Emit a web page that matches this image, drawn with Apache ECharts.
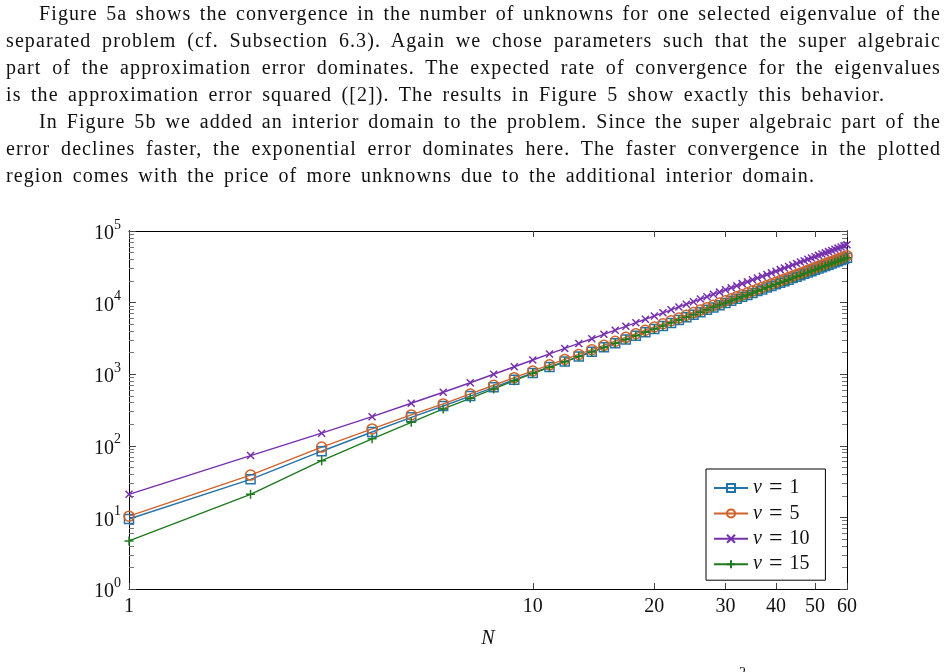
<!DOCTYPE html>
<html>
<head>
<meta charset="utf-8">
<script src="https://cdn.jsdelivr.net/npm/echarts@6.0.0/dist/echarts.min.js"></script>
<style>
  body { margin:0; background:#fff; }
  #main { position:absolute; left:0; top:0; width:947px; height:672px; }
  #text { position:absolute; left:6px; top:0; width:935px; font-family:'Liberation Serif', serif; font-size:20px; line-height:27px; letter-spacing:1.1px; color:#111; pointer-events:none; }
  #text div { text-align:justify; text-align-last:justify; }
  #text .ind { padding-left:33px; }
  #cut { position:absolute; left:739px; top:665px; font-family:'Liberation Serif', serif; font-size:14px; color:#111; }
</style>
</head>
<body>
<div id="main"></div>
<div id="text">
  <div class="ind">Figure 5a shows the convergence in the number of unknowns for one selected eigenvalue of the</div>
  <div>separated problem (cf. Subsection 6.3). Again we chose parameters such that the super algebraic</div>
  <div>part of the approximation error dominates. The expected rate of convergence for the eigenvalues</div>
  <div style="width:879px">is the approximation error squared ([2]). The results in Figure 5 show exactly this behavior.</div>
  <div class="ind">In Figure 5b we added an interior domain to the problem. Since the super algebraic part of the</div>
  <div>error declines faster, the exponential error dominates here. The faster convergence in the plotted</div>
  <div style="width:809px">region comes with the price of more unknowns due to the additional interior domain.</div>
</div>
<div id="cut">2</div>
<script>
// N (x) values
var nValues=[1,2,3,4,5,6,7,8,9,10,11,12,13,14,15,16,17,18,19,20,
             21,22,23,24,25,26,27,28,29,30,31,32,33,34,35,36,37,38,39,40,
             41,42,43,44,45,46,47,48,49,50,51,52,53,54,55,56,57,58,59,60];

// number of unknowns
var nu1=[9.5,34,84,156,250,360,495,655,836,1040,
         1260,1500,1770,2060,2370,2700,3060,3440,3850,4270,
         4730,5200,5700,6230,6770,7350,7950,8570,9220,9890,
         10600,11300,12100,12800,13600,14500,15300,16200,17100,18000,
         19000,19900,20900,22000,23000,24100,25200,26400,27500,28700,
         30000,31200,32500,33800,35100,36500,37900,39300,40700,42200];
var nu5=[10.4,39,96,172,270,385,530,701,894,1110,
         1350,1610,1890,2200,2530,2890,3270,3680,4110,4570,
         5060,5570,6100,6660,7250,7860,8500,9170,9860,10600,
         11300,12100,12900,13700,14600,15500,16400,17300,18300,19300,
         20300,21300,22400,23500,24700,25800,27000,28200,29500,30800,
         32100,33400,34800,36200,37600,39000,40500,42000,43600,45100];
var nu10=[21,73,150,255,393,560,760,998,1270,1580,
          1920,2290,2690,3130,3610,4120,4660,5240,5860,6510,
          7200,7930,8690,9490,10300,11200,12100,13100,14000,15100,
          16100,17200,18400,19500,20800,22000,23300,24700,26000,27400,
          28900,30400,31900,33500,35100,36800,38500,40200,42000,43800,
          45700,47600,49500,51500,53500,55600,57700,59800,62000,64300];
var nu15=[4.7,21,62,125,213,327,461,622,812,1030,
          1250,1490,1760,2050,2360,2700,3060,3440,3850,4280,
          4730,5210,5710,6230,6780,7350,7950,8580,9230,9900,
          10600,11300,12100,12800,13600,14500,15300,16200,17100,18000,
          19000,19900,20900,22000,23100,24100,25300,26400,27600,28800,
          30000,31300,32500,33800,35200,36500,37900,39300,40800,42300];

var seriesNames=['ν = 1','ν = 5','ν = 10','ν = 15'];
var xTickValues=[1,10,20,30,40,50,60];
var yMajorTicks=[1,10,100,1000,10000,100000];

var yMinorTicks=[];
for(var k=0;k<5;k++){
    for(var m=2;m<10;m++){
        yMinorTicks.push(m*Math.pow(10,k));
    }
}

var FONT="'Liberation Serif', serif";
var colors=['#2474ab','#d0622a','#7630ad','#1f7a1f'];

function pairs(ys){
    return nValues.map(function(n,i){ return [n,ys[i]]; });
}

function makeSeries(name,ys,color,symbol,size){
    var hollow=(symbol==='rect'||symbol==='circle');
    return {
        name:name,
        type:'line',
        data:pairs(ys),
        symbol:symbol,
        symbolSize:size,
        lineStyle:{color:color,width:1.4},
        itemStyle:{color:hollow?'rgba(0,0,0,0)':color,borderColor:color,borderWidth:1.5},
        emphasis:{disabled:true}
    };
}

var myChart=echarts.init(document.getElementById('main'));

var xBase={
    type:'log',
    logBase:10,
    min:1,
    max:60,
    splitLine:{show:false},
    axisLine:{show:true,lineStyle:{color:'#000',width:1}}
};
var yBase={
    type:'log',
    logBase:10,
    min:1,
    max:100000,
    splitLine:{show:false},
    axisLine:{show:true,lineStyle:{color:'#000',width:1}}
};

var option={
    animation:false,
    textStyle:{fontFamily:FONT},
    grid:{left:129,top:231,width:718,height:358},
    legend:{
        orient:'vertical',
        left:706,
        top:469,
        data:seriesNames,
        itemWidth:34,
        itemHeight:10,
        itemGap:1.4,
        padding:[7,16,4,7],
        borderColor:'#000',
        borderWidth:1,
        backgroundColor:'#fff',
        textStyle:{
            fontFamily:FONT,fontSize:20,color:'#111',lineHeight:20,
            rich:{
                i:{fontFamily:FONT,fontStyle:'italic',fontSize:20,color:'#111',lineHeight:20},
                g:{width:7,lineHeight:20},
                e:{fontFamily:FONT,fontSize:24,color:'#111',lineHeight:20},
                n:{fontFamily:FONT,fontSize:20,color:'#111',lineHeight:20}
            }
        },
        formatter:function(name){
            var num=name.split('= ')[1];
            return '{i|ν}{g|}{e|=}{g|}{n|'+num+'}';
        }
    },
    xAxis:[
        Object.assign({},xBase,{
            position:'bottom',
            name:'N',
            nameLocation:'middle',
            nameGap:40,
            nameTextStyle:{fontFamily:FONT,fontStyle:'italic',fontSize:20,color:'#111'},
            axisTick:{inside:true,length:6,customValues:xTickValues,lineStyle:{color:'#444'}},
            axisLabel:{customValues:xTickValues,fontFamily:FONT,fontSize:20,color:'#111',margin:8}
        }),
        Object.assign({},xBase,{
            position:'top',
            axisTick:{inside:true,length:6,customValues:xTickValues,lineStyle:{color:'#444'}},
            axisLabel:{show:false}
        })
    ],
    yAxis:[
        Object.assign({},yBase,{
            position:'left',
            axisTick:{inside:true,length:7,customValues:yMajorTicks,lineStyle:{color:'#444'}},
            axisLabel:{
                customValues:yMajorTicks,
                margin:8,
                color:'#111',
                formatter:function(v){
                    var e=Math.round(Math.log(v)/Math.LN10);
                    return '{b|10}{s|'+e+'}';
                },
                rich:{
                    b:{fontFamily:FONT,fontSize:20,color:'#111',verticalAlign:'bottom',lineHeight:26},
                    s:{fontFamily:FONT,fontSize:14,color:'#111',verticalAlign:'top',lineHeight:26}
                }
            }
        }),
        Object.assign({},yBase,{
            position:'left',
            axisTick:{show:true,inside:true,length:5,customValues:yMinorTicks,lineStyle:{color:'#777',width:1}},
            axisLabel:{show:false}
        }),
        Object.assign({},yBase,{
            position:'right',
            axisTick:{inside:true,length:7,customValues:yMajorTicks,lineStyle:{color:'#444'}},
            axisLabel:{show:false}
        }),
        Object.assign({},yBase,{
            position:'right',
            axisTick:{show:true,inside:true,length:5,customValues:yMinorTicks,lineStyle:{color:'#777',width:1}},
            axisLabel:{show:false}
        })
    ],
    series:[
        makeSeries(seriesNames[0],nu1,colors[0],'rect',9),
        makeSeries(seriesNames[1],nu5,colors[1],'circle',10),
        makeSeries(seriesNames[2],nu10,colors[2],'path://M0 0L10 10M10 0L0 10',7),
        makeSeries(seriesNames[3],nu15,colors[3],'path://M5 0L5 10M0 5L10 5',9)
    ]
};

myChart.setOption(option);
</script>
</body>
</html>
